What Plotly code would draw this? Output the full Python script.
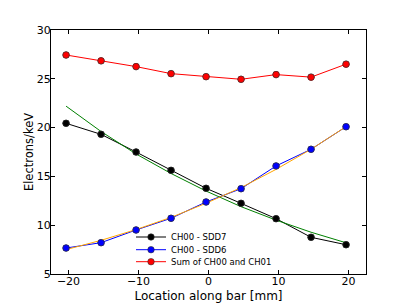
import plotly.graph_objects as go

location = [-20.35, -15.35, -10.35, -5.35, -0.35, 4.65, 9.65, 14.65, 19.65]
sdd7 = [20.44, 19.31, 17.5, 15.62, 13.78, 12.24, 10.67, 8.76, 8.0]
sdd6 = [7.66, 8.21, 9.51, 10.71, 12.38, 13.74, 16.07, 17.78, 20.09]
total = [27.44, 26.84, 26.25, 25.53, 25.22, 24.95, 25.43, 25.17, 26.5]
fit7 = [22.2, 19.6, 17.3, 15.3, 13.5, 11.9, 10.52, 9.28, 8.2]
fit6 = [7.5, 8.45, 9.55, 10.8, 12.25, 13.85, 15.72, 17.78, 20.1]

series = [("CH00 - SDD7", sdd7, "#000000", "legend"),
          ("CH00 - SDD6", sdd6, "#0000FF", "legend2"),
          ("Sum of CH00 and CH01", total, "#FF0000", "legend3")]

font = "DejaVu Sans, Arial, sans-serif"
fig = go.Figure()

for name, ys, col, lg in series:
    fig.add_trace(go.Scatter(x=location, y=ys, mode="lines+markers", name=name, legend=lg,
                             line=dict(color=col, width=1),
                             marker=dict(color=col, size=6.5, line=dict(color="#333333", width=0.6))))

fig.add_trace(go.Scatter(x=location, y=fit7, mode="lines", line=dict(color="#008000", width=1), showlegend=False))
fig.add_trace(go.Scatter(x=location, y=fit6, mode="lines", line=dict(color="#FFA500", width=1), showlegend=False))

for name, ys, col, lg in series:
    fig.add_trace(go.Scatter(x=location, y=ys, mode="markers", showlegend=False,
                             marker=dict(color=col, size=6.5, line=dict(color="#333333", width=0.6))))

axis_common = dict(showline=True, linecolor="black", linewidth=1, mirror="ticks", ticks="inside",
                   ticklen=4, tickcolor="black", showgrid=False, zeroline=False, automargin=False,
                   ticklabelstandoff=-3,
                   tickfont=dict(family=font, size=11, color="black"))

def leg(yc):
    return dict(x=0.254, y=(274 - yc) / 244, xanchor="left", yanchor="middle", bgcolor="rgba(0,0,0,0)",
                font=dict(family=font, size=8.5, color="black"), itemwidth=30)

# page body has an 8px margin, so the figure is sized to fit the 407x305 window
fig.update_layout(
    width=399, height=297,
    margin=dict(l=43, r=41, t=22, b=31),
    paper_bgcolor="white", plot_bgcolor="white",
    font=dict(family=font, color="black"),
    xaxis=dict(range=[-22.5, 22.5], tickvals=[-20, -10, 0, 10, 20], ticktext=["\u221220", "\u221210", "0", "10", "20"],
               title=dict(text="Location along bar [mm]", font=dict(family=font, size=12), standoff=4), **axis_common),
    yaxis=dict(range=[5, 30], tickvals=[5, 10, 15, 20, 25, 30],
               title=dict(text="Electrons/keV", font=dict(family=font, size=11.5), standoff=0), **axis_common),
    legend=leg(237),
    legend2=leg(249.7),
    legend3=leg(261.7),
)

fig.write_html("out.html")
